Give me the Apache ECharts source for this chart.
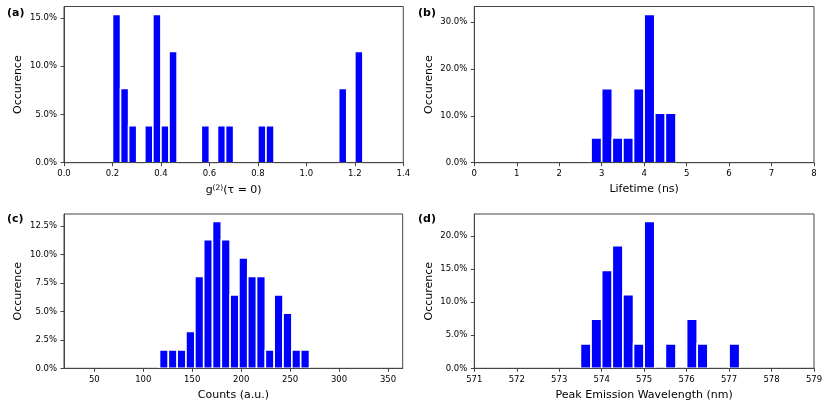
<!DOCTYPE html>
<html><head><meta charset="utf-8">
<script src="https://cdn.jsdelivr.net/npm/echarts@6/dist/echarts.min.js"></script>
<style>html,body{margin:0;padding:0;background:#fff}#c{width:830px;height:407px}</style>
</head><body><div id="c"></div>
<script>
// ---- data (percent occurrence per histogram bin; bins given by centers) ----
const g2Centers = [0.2167,0.25,0.2833,0.35,0.3833,0.4167,0.45,0.5833,0.65,0.6833,0.8167,0.85,1.15,1.2167];
const g2Values  = [15.38,7.69,3.85,3.85,15.38,3.85,11.54,3.85,3.85,3.85,3.85,3.85,7.69,11.54];
const lifeCenters = [2.875,3.125,3.375,3.625,3.875,4.125,4.375,4.625];
const lifeValues  = [5.26,15.79,5.26,5.26,15.79,31.58,10.53,10.53];
const countCenters = [121.1,130.1,139.1,148.1,157.2,166.2,175.2,184.2,193.2,202.2,211.2,220.2,229.2,238.2,247.3,256.3,265.3];
const countValues  = [1.61,1.61,1.61,3.23,8.06,11.29,12.90,11.29,6.45,9.68,8.06,8.06,1.61,6.45,4.84,1.61,1.61];
const wlCenters = [573.625,573.875,574.125,574.375,574.625,574.875,575.125,575.625,576.125,576.375,577.125];
const wlValues  = [3.70,7.41,14.81,18.52,11.11,3.70,22.22,3.70,7.41,3.70,3.70];
const binWidths = [0.0333, 0.25, 9.01, 0.25];

// tick labels
const xTicksA = [0,0.2,0.4,0.6,0.8,1.0,1.2,1.4];
const xTicksB = [0,1,2,3,4,5,6,7,8];
const xTicksC = [50,100,150,200,250,300,350];
const xTicksD = [571,572,573,574,575,576,577,578,579];
const yTicksA = [0,5,10,15];
const yTicksB = [0,10,20,30];
const yTicksC = [0,2.5,5,7.5,10,12.5];
const yTicksD = [0,5,10,15,20];
const xNames = ['g{sup|(2)}(τ = 0)', 'Lifetime (ns)', 'Counts (a.u.)', 'Peak Emission Wavelength (nm)'];
const panelLabels = ['(a)','(b)','(c)','(d)'];

const FONT = 'DejaVu Sans';
const AX = '#444';
const grids = [
  {left:64, top:6.5, width:339.3, height:156.2},
  {left:474.3, top:6.5, width:339.7, height:156.2},
  {left:64, top:214, width:338.7, height:154.3},
  {left:474.3, top:214, width:339.7, height:154.3}
];
const xRanges = [[0,1.4],[0,8],[19,365],[571,579]];
const yMax = [16.2, 33.3, 13.55, 23.33];
const xTicks = [xTicksA,xTicksB,xTicksC,xTicksD];
const yTicks = [yTicksA,yTicksB,yTicksC,yTicksD];
const xFmt = [v=>v.toFixed(1), v=>String(v), v=>String(v), v=>String(v)];
const centers = [g2Centers, lifeCenters, countCenters, wlCenters];
const values = [g2Values, lifeValues, countValues, wlValues];

const chart = echarts.init(document.getElementById('c'), null, {renderer:'canvas'});
const option = {
  animation:false,
  backgroundColor:'#fff',
  grid: grids.map(g=>Object.assign({show:true, borderColor:AX, borderWidth:1, backgroundColor:'transparent', containLabel:false}, g)),
  xAxis: grids.map((g,i)=>({
    type:'value', gridIndex:i, min:xRanges[i][0], max:xRanges[i][1], z:5,
    splitLine:{show:false},
    axisLine:{show:true, lineStyle:{color:AX, width:1}},
    axisTick:{show:true, length:3.5, lineStyle:{color:AX}, customValues:xTicks[i]},
    axisLabel:{color:'#000', fontFamily:FONT, fontSize:8.5, margin:6.5, customValues:xTicks[i], formatter:xFmt[i]},
    name:xNames[i], nameLocation:'middle', nameGap:21,
    nameTextStyle:{color:'#000', fontFamily:FONT, fontSize:11, verticalAlign:'top',
      rich:{sup:{fontSize:7.5, fontFamily:FONT, color:'#000', verticalAlign:'bottom', padding:[0,0,5,0]}}}
  })),
  yAxis: grids.map((g,i)=>({
    type:'value', gridIndex:i, min:0, max:yMax[i], z:5,
    splitLine:{show:false},
    axisLine:{show:true, lineStyle:{color:AX, width:1}},
    axisTick:{show:true, length:3.5, lineStyle:{color:AX}, customValues:yTicks[i]},
    axisLabel:{color:'#000', fontFamily:FONT, fontSize:8.5, margin:7, customValues:yTicks[i], formatter:v=>v.toFixed(1)+'%'},
    name:'Occurence', nameLocation:'middle', nameGap:40,
    nameTextStyle:{color:'#000', fontFamily:FONT, fontSize:11}
  })),
  series: centers.map((cs,i)=>({
    type:'custom', xAxisIndex:i, yAxisIndex:i, z:2,
    data: cs.map((c,k)=>[c, values[i][k]]),
    renderItem:(params, api)=>{
      const c = api.value(0), h = api.value(1), w = binWidths[i];
      const p0 = api.coord([c - w/2, h]);
      const p1 = api.coord([c + w/2, 0]);
      return {type:'rect', shape:{x:p0[0], y:p0[1], width:p1[0]-p0[0], height:p1[1]-p0[1]},
        style:{fill:'#0000ff', stroke:'#ffffff', lineWidth:1.6}};
    }
  })),
  graphic: [
    {type:'text', left:7, top:8, style:{text:panelLabels[0], fontFamily:FONT, fontWeight:'bold', fontSize:11, fill:'#000'}},
    {type:'text', left:418, top:7.5, style:{text:panelLabels[1], fontFamily:FONT, fontWeight:'bold', fontSize:11, fill:'#000'}},
    {type:'text', left:7, top:213.5, style:{text:panelLabels[2], fontFamily:FONT, fontWeight:'bold', fontSize:11, fill:'#000'}},
    {type:'text', left:418, top:214, style:{text:panelLabels[3], fontFamily:FONT, fontWeight:'bold', fontSize:11, fill:'#000'}}
  ]
};
chart.setOption(option);
</script></body></html>
